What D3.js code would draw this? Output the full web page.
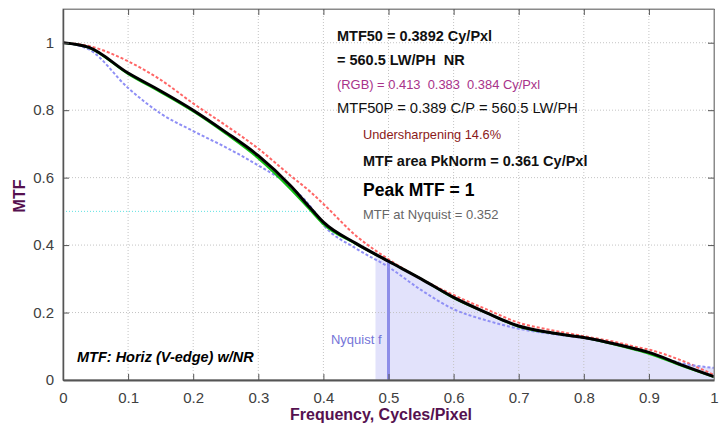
<!DOCTYPE html>
<html lang="en">
<head>
<meta charset="UTF-8">
<title>MTF chart</title>
<script src="https://d3js.org/d3.v7.min.js"></script>
<style>
  body { margin: 0; background: #fff; }
  svg text { font-family: "Liberation Sans", Arial, Helvetica, sans-serif; white-space: pre; }
</style>
</head>
<body>
<div id="chartArea"></div>
<script>
    // frequency grid (cycles/pixel) shared by all curves
    const freq    = [0, 0.04, 0.1, 0.15, 0.2, 0.25, 0.3, 0.35, 0.38, 0.4, 0.45, 0.5, 0.55, 0.6, 0.65, 0.7, 0.75, 0.8, 0.85, 0.88, 0.9, 0.95, 1.0];
    // MTF values
    const mtfLuma = [1.0, 0.986, 0.91, 0.857, 0.80, 0.735, 0.665, 0.575, 0.51, 0.468, 0.405, 0.352, 0.30, 0.245, 0.20, 0.16, 0.14, 0.126, 0.106, 0.092, 0.082, 0.045, 0.01];
    const mtfG    = [1.0, 0.985, 0.907, 0.853, 0.796, 0.73, 0.657, 0.565, 0.503, 0.462, 0.403, 0.352, 0.30, 0.243, 0.199, 0.158, 0.139, 0.125, 0.104, 0.089, 0.078, 0.042, 0.009];
    const mtfR    = [1.0, 0.99, 0.945, 0.89, 0.82, 0.755, 0.686, 0.605, 0.558, 0.522, 0.428, 0.358, 0.30, 0.252, 0.21, 0.17, 0.148, 0.13, 0.112, 0.098, 0.09, 0.058, 0.015];
    const mtfB    = [1.0, 0.98, 0.866, 0.79, 0.738, 0.69, 0.636, 0.573, 0.515, 0.46, 0.39, 0.335, 0.267, 0.21, 0.177, 0.152, 0.137, 0.124, 0.105, 0.09, 0.08, 0.05, 0.036];

    const xTicks = [0, 0.1, 0.2, 0.3, 0.4, 0.5, 0.6, 0.7, 0.8, 0.9, 1];
    const yTicks = [0, 0.2, 0.4, 0.6, 0.8, 1];

    const mtf50 = 0.3892;
    const nyquist = 0.5;
    const mtfAtNyquist = 0.352;
    const shadeStart = 0.48;

    const notes = [
        { text: "MTF50 = 0.3892 Cy/Pxl", x: 337, y: 41, size: 14.5, weight: "bold", color: "#111" },
        { text: "= 560.5 LW/PH  NR", x: 337, y: 65, size: 14.5, weight: "bold", color: "#111" },
        { text: "(RGB) = 0.413  0.383  0.384 Cy/Pxl", x: 337, y: 89, size: 12.9, weight: "normal", color: "#a8328a" },
        { text: "MTF50P = 0.389 C/P = 560.5 LW/PH", x: 337, y: 113, size: 14.7, weight: "normal", color: "#111" },
        { text: "Undersharpening 14.6%", x: 363, y: 139, size: 12.8, weight: "normal", color: "#8b1a1a" },
        { text: "MTF area PkNorm = 0.361 Cy/Pxl", x: 363, y: 166, size: 14.5, weight: "bold", color: "#111" },
        { text: "Peak MTF = 1", x: 363, y: 196, size: 17.5, weight: "bold", color: "#000" },
        { text: "MTF at Nyquist = 0.352", x: 363, y: 219, size: 13, weight: "normal", color: "#666" }
    ];

    const W = 721, H = 428;
    const m = { left: 63, right: 7, top: 9, bottom: 48 };

    const svg = d3.select("#chartArea").append("svg")
        .attr("width", W)
        .attr("height", H);

    const x = d3.scaleLinear().domain([0, 1]).range([m.left, W - m.right]);
    const y = d3.scaleLinear().domain([0, 1.1]).range([H - m.bottom, m.top]);

    const rows = freq.map((f, i) => ({ f: f, l: mtfLuma[i], g: mtfG[i], r: mtfR[i], b: mtfB[i] }));

    // shaded area beyond ~Nyquist, under the upper of luma / blue
    svg.append("clipPath").attr("id", "shadeClip")
        .append("rect")
        .attr("x", x(shadeStart)).attr("y", m.top)
        .attr("width", x(1) - x(shadeStart)).attr("height", y(0) - m.top);

    svg.append("path")
        .datum(rows)
        .attr("clip-path", "url(#shadeClip)")
        .attr("fill", "#e2e2fb")
        .attr("d", d3.area()
            .x(d => x(d.f))
            .y0(y(0))
            .y1(d => y(Math.max(d.l, d.b)))
            .curve(d3.curveMonotoneX));

    // dotted grid
    const grid = svg.append("g").attr("stroke", "#c4c4c4").attr("stroke-dasharray", "1,2").attr("stroke-width", 1);
    grid.selectAll(".gx").data(xTicks.slice(1, -1)).enter().append("line")
        .attr("x1", d => x(d)).attr("x2", d => x(d))
        .attr("y1", y(0)).attr("y2", m.top);
    grid.selectAll(".gy").data(yTicks.slice(1)).enter().append("line")
        .attr("x1", x(0)).attr("x2", x(1))
        .attr("y1", d => y(d)).attr("y2", d => y(d));

    // MTF50 level
    svg.append("line")
        .attr("x1", x(0)).attr("x2", x(mtf50))
        .attr("y1", y(0.5)).attr("y2", y(0.5))
        .attr("stroke", "#5fe3e3").attr("stroke-dasharray", "1,2");

    // Nyquist marker
    svg.append("line")
        .attr("x1", x(nyquist)).attr("x2", x(nyquist))
        .attr("y1", y(0)).attr("y2", y(mtfAtNyquist))
        .attr("stroke", "#8d8de8").attr("stroke-width", 3);
    svg.append("text")
        .attr("x", x(nyquist) - 7).attr("y", 344)
        .attr("text-anchor", "end")
        .attr("font-size", 13).attr("fill", "#7474d8")
        .text("Nyquist f");

    // curves
    const line = key => d3.line().x(d => x(d.f)).y(d => y(d[key])).curve(d3.curveMonotoneX);
    svg.append("path").datum(rows).attr("d", line("r"))
        .attr("fill", "none").attr("stroke", "#ff6666").attr("stroke-width", 2).attr("stroke-dasharray", "3,2");
    svg.append("path").datum(rows).attr("d", line("b"))
        .attr("fill", "none").attr("stroke", "#8f8ff5").attr("stroke-width", 2).attr("stroke-dasharray", "3,2");
    svg.append("path").datum(rows).attr("d", line("g"))
        .attr("fill", "none").attr("stroke", "#10c010").attr("stroke-width", 2);
    svg.append("path").datum(rows).attr("d", line("l"))
        .attr("fill", "none").attr("stroke", "#000").attr("stroke-width", 3);

    // frame and inward ticks
    svg.append("rect")
        .attr("x", x(0)).attr("y", m.top)
        .attr("width", x(1) - x(0)).attr("height", y(0) - m.top)
        .attr("fill", "none").attr("stroke", "#8a8a8a");

    const xAxis = svg.append("g").attr("transform", `translate(0,${y(0)})`)
        .call(d3.axisBottom(x).tickValues(xTicks).tickFormat(d3.format("")).tickSizeInner(-6).tickSizeOuter(0).tickPadding(12));
    const xTop = svg.append("g").attr("transform", `translate(0,${m.top})`)
        .call(d3.axisTop(x).tickValues(xTicks).tickFormat("").tickSizeInner(-6).tickSizeOuter(0));
    const yAxis = svg.append("g").attr("transform", `translate(${x(0)},0)`)
        .call(d3.axisLeft(y).tickValues(yTicks).tickFormat(d3.format("")).tickSizeInner(-6).tickSizeOuter(0).tickPadding(9));
    const yRight = svg.append("g").attr("transform", `translate(${x(1)},0)`)
        .call(d3.axisRight(y).tickValues(yTicks).tickFormat("").tickSizeInner(-6).tickSizeOuter(0));

    [xAxis, xTop, yAxis, yRight].forEach(g => {
        g.select(".domain").attr("stroke", "#8a8a8a");
        g.selectAll(".tick line").attr("stroke", "#555");
        g.selectAll(".tick text").attr("font-size", 15).attr("fill", "#404040")
            .style("font-family", "\"Liberation Sans\", Arial, sans-serif");
    });
    xAxis.select(".domain").attr("stroke", "#555").attr("stroke-width", 2);
    yAxis.select(".domain").attr("stroke", "#555").attr("stroke-width", 1.5);

    // axis titles
    svg.append("text")
        .attr("x", 381).attr("y", 420)
        .attr("text-anchor", "middle")
        .attr("font-size", 16).attr("font-weight", "bold").attr("fill", "#55114f")
        .text("Frequency, Cycles/Pixel");
    svg.append("text")
        .attr("transform", "translate(25,196) rotate(-90)")
        .attr("text-anchor", "middle")
        .attr("font-size", 16).attr("font-weight", "bold").attr("fill", "#55114f")
        .text("MTF");

    // annotations
    svg.selectAll(".note").data(notes).enter().append("text")
        .attr("x", d => d.x).attr("y", d => d.y)
        .attr("font-size", d => d.size)
        .attr("font-weight", d => d.weight)
        .attr("fill", d => d.color)
        .text(d => d.text);

    svg.append("text")
        .attr("x", 77).attr("y", 362)
        .attr("font-size", 14.5).attr("font-weight", "bold").attr("font-style", "italic").attr("fill", "#000")
        .text("MTF: Horiz (V-edge) w/NR");
</script>
</body>
</html>
